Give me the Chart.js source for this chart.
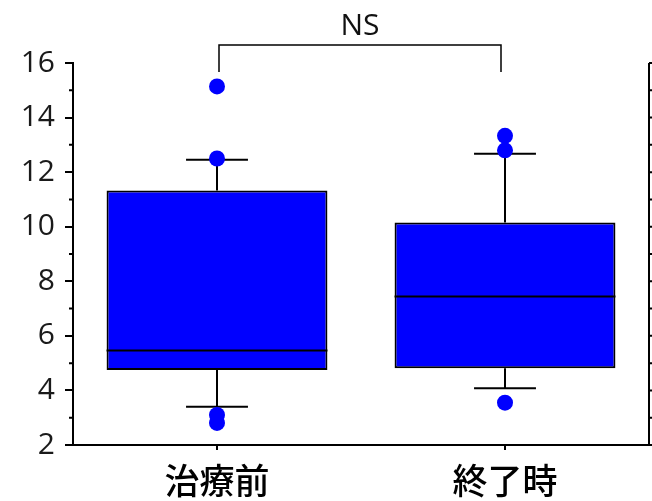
<!DOCTYPE html>
<html>
<head>
<meta charset="utf-8">
<script src="https://cdn.jsdelivr.net/npm/chart.js@4.4.1/dist/chart.umd.min.js"></script>
<style>
  body { margin: 0; background: #fff; }
</style>
</head>
<body>
<canvas id="boxChart" width="652" height="501"></canvas>
<script>
// box plot values per group
const labels = ['治療前', '終了時'];
const q1 = [4.75, 4.81];
const median = [5.46, 7.44];
const q3 = [11.33, 10.15];
const whiskerLow = [3.40, 4.08];
const whiskerHigh = [12.45, 12.67];
// individual points shown as dots
const pointsBefore = [15.14, 12.5, 3.10, 2.81];
const pointsAfter = [13.33, 12.80, 3.55];

const yMin = 2, yMax = 16;
const boxBlue = '#0000ff';
const capFrac = 0.215;

const dots = [
  ...pointsBefore.map(v => ({ x: labels[0], y: v })),
  ...pointsAfter.map(v => ({ x: labels[1], y: v }))
];

// whiskers, medians, right frame and the NS bracket
const boxLines = {
  id: 'boxLines',
  beforeDatasetsDraw(chart) {
    const { ctx, scales: { x, y } } = chart;
    const half = x.width / labels.length * capFrac / 2;
    ctx.save();
    ctx.strokeStyle = '#000';
    ctx.lineWidth = 2;
    labels.forEach((l, i) => {
      const cx = x.getPixelForValue(i);
      ctx.beginPath();
      ctx.moveTo(cx, y.getPixelForValue(whiskerLow[i]));
      ctx.lineTo(cx, y.getPixelForValue(q1[i]));
      ctx.moveTo(cx, y.getPixelForValue(q3[i]));
      ctx.lineTo(cx, y.getPixelForValue(whiskerHigh[i]));
      ctx.moveTo(cx - half, y.getPixelForValue(whiskerLow[i]));
      ctx.lineTo(cx + half, y.getPixelForValue(whiskerLow[i]));
      ctx.moveTo(cx - half, y.getPixelForValue(whiskerHigh[i]));
      ctx.lineTo(cx + half, y.getPixelForValue(whiskerHigh[i]));
      ctx.stroke();
    });
    ctx.restore();
  },
  afterDatasetDraw(chart, args) {
    if (args.index !== 1) return;
    const { ctx, scales: { y } } = chart;
    ctx.save();
    ctx.strokeStyle = '#000';
    ctx.lineWidth = 2;
    args.meta.data.forEach((bar, i) => {
      const py = y.getPixelForValue(median[i]);
      ctx.beginPath();
      ctx.moveTo(bar.x - bar.width / 2, py);
      ctx.lineTo(bar.x + bar.width / 2, py);
      ctx.stroke();
    });
    ctx.restore();
  },
  afterDraw(chart) {
    const { ctx, chartArea: a, scales: { x, y } } = chart;
    ctx.save();
    ctx.strokeStyle = '#000';
    ctx.lineWidth = 2;
    ctx.beginPath();
    // right frame with outward ticks
    ctx.moveTo(a.right, a.top);
    ctx.lineTo(a.right, a.bottom);
    for (let v = yMin; v <= yMax; v++) {
      const py = y.getPixelForValue(v);
      ctx.moveTo(a.right, py);
      ctx.lineTo(a.right + 5, py);
    }
    // minor ticks on the left axis
    for (let v = yMin + 1; v < yMax; v += 2) {
      const py = y.getPixelForValue(v);
      ctx.moveTo(a.left - 4, py);
      ctx.lineTo(a.left, py);
    }
    ctx.stroke();

    // bracket between groups
    const x0 = x.getPixelForValue(0) + 2;
    const x1 = x.getPixelForValue(1) - 4;
    const top = a.top - 18;
    ctx.lineWidth = 1.5;
    ctx.beginPath();
    ctx.moveTo(x0, a.top + 9);
    ctx.lineTo(x0, top);
    ctx.lineTo(x1, top);
    ctx.lineTo(x1, a.top + 9);
    ctx.stroke();
    ctx.fillStyle = '#111';
    ctx.font = '30px "Open Sans"';
    ctx.textAlign = 'center';
    ctx.textBaseline = 'alphabetic';
    ctx.fillText('NS', (x0 + x1) / 2, top - 10);
    ctx.restore();
  }
};

new Chart(document.getElementById('boxChart'), {
  type: 'bar',
  data: {
    labels: labels,
    datasets: [{
      type: 'line',
      data: dots,
      showLine: false,
      pointRadius: 8,
      pointHoverRadius: 8,
      pointBackgroundColor: boxBlue,
      pointBorderWidth: 0,
      borderColor: boxBlue
    }, {
      data: labels.map((l, i) => [q1[i], q3[i]]),
      backgroundColor: boxBlue,
      borderColor: '#000',
      borderWidth: 2,
      borderSkipped: false,
      categoryPercentage: 1,
      barPercentage: 0.767
    }]
  },
  options: {
    responsive: false,
    animation: false,
    layout: { autoPadding: false, padding: { top: 63, right: 3, left: 0, bottom: 0 } },
    plugins: { legend: { display: false }, tooltip: { enabled: false } },
    scales: {
      x: {
        afterFit: s => { s.height = 56; },
        grid: { drawOnChartArea: false, offset: false, tickLength: 5, color: '#000', lineWidth: 2 },
        border: { color: '#000', width: 2 },
        ticks: { color: '#000', padding: 10, font: { family: '"Noto Sans CJK JP"', size: 35, weight: '500' } }
      },
      y: {
        min: yMin,
        max: yMax,
        afterFit: s => { s.width = 73; },
        grid: { drawOnChartArea: false, tickLength: 8, color: '#000', lineWidth: 2 },
        border: { color: '#000', width: 2 },
        ticks: { stepSize: 2, color: '#1a1a1a', padding: 10, font: { family: '"Open Sans"', size: 30 } }
      }
    }
  },
  plugins: [boxLines]
});
</script>
</body>
</html>
